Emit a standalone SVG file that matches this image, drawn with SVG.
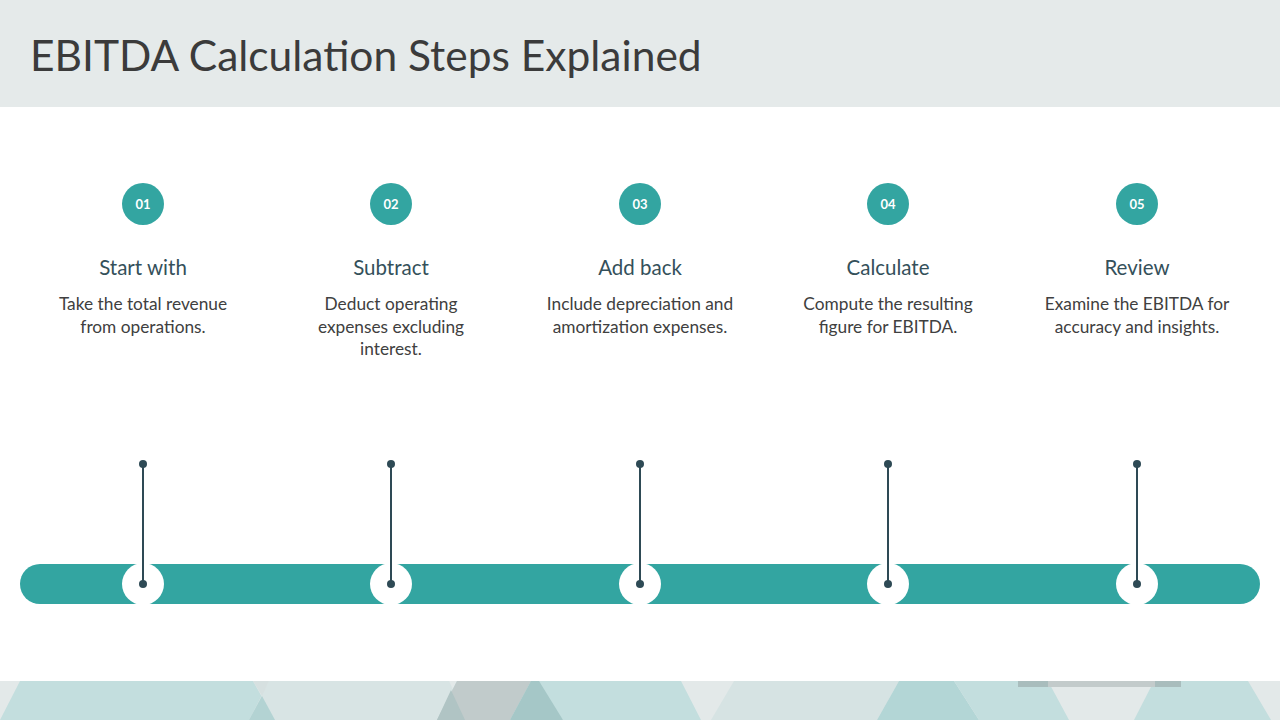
<svg xmlns="http://www.w3.org/2000/svg" width="1280" height="720" viewBox="0 0 1280 720">
<style>
.title{font-family:Lato,"Open Sans",sans-serif;font-size:42.5px;fill:#3b3b3b}
.num{font-family:Lato,"Open Sans",sans-serif;font-size:13px;font-weight:bold;fill:#ffffff;text-anchor:middle}
.head{font-family:Lato,"Open Sans",sans-serif;font-size:20.5px;fill:#34505a;text-anchor:middle}
.body{font-family:Lato,"Open Sans",sans-serif;font-size:17.3px;fill:#404040;text-anchor:middle}
.badge{fill:#33a5a1}
.hole{fill:#ffffff}
.stem{stroke:#2e4a55;stroke-width:2}
.dot{fill:#2e4a55}
</style>
<rect x="0" y="0" width="1280" height="720" fill="#ffffff"/>
<rect x="0" y="0" width="1280" height="107" fill="#e5eaea"/>
<text class="title" x="30" y="71">EBITDA Calculation Steps Explained</text>

<g id="footer">
<rect x="0" y="681" width="1280" height="39" fill="#e3e9e9"/>
<polygon points="20,681 253,681 275,720 0,720" fill="#c3dede"/>
<polygon points="269,681 449,681 467,720 249,720" fill="#d6e3e3" opacity="0.9"/>
<polygon points="253,681 269,681 262,696" fill="#d6e0e0"/>
<polygon points="249,720 262,696 275,720" fill="#b3d3d3"/>
<polygon points="457,681 531,681 535,690 539,681 681,681 701,720 563,720 535,700 510,720 437,720" fill="#c3dede"/>
<polygon points="457,681 531,681 510,720 437,720" fill="#c1cbcb"/>
<polygon points="437,720 451,690 465,720" fill="#b0c4c4"/>
<polygon points="531,681 539,681 563,720 510,720" fill="#a5c7c7"/>
<polygon points="734,681 899,681 877,720 711,720" fill="#d6e3e3"/>
<polygon points="899,681 954,681 979,720 877,720" fill="#b3d6d6"/>
<polygon points="954,681 1048,681 1069,720 979,720" fill="#c3dede"/>
<polygon points="1154,681 1248,681 1271,720 1134,720" fill="#c3dede"/>
<rect x="1018" y="681" width="163" height="6" fill="#c3cbcb"/>
<rect x="1018" y="681" width="30" height="6" fill="#a9bdbd"/>
<rect x="1155" y="681" width="26" height="6" fill="#a9bdbd"/>
</g>

<g id="connectors">
<rect x="20" y="564" width="1240" height="40" rx="20" fill="#33a5a1"/>
<circle class="hole" cx="143" cy="584" r="21"/>
<circle class="hole" cx="391" cy="584" r="21"/>
<circle class="hole" cx="640" cy="584" r="21"/>
<circle class="hole" cx="888" cy="584" r="21"/>
<circle class="hole" cx="1137" cy="584" r="21"/>
<line class="stem" x1="143" y1="464" x2="143" y2="584"/>
<line class="stem" x1="391" y1="464" x2="391" y2="584"/>
<line class="stem" x1="640" y1="464" x2="640" y2="584"/>
<line class="stem" x1="888" y1="464" x2="888" y2="584"/>
<line class="stem" x1="1137" y1="464" x2="1137" y2="584"/>
<circle class="dot" cx="143" cy="464" r="4"/><circle class="dot" cx="143" cy="584" r="4"/>
<circle class="dot" cx="391" cy="464" r="4"/><circle class="dot" cx="391" cy="584" r="4"/>
<circle class="dot" cx="640" cy="464" r="4"/><circle class="dot" cx="640" cy="584" r="4"/>
<circle class="dot" cx="888" cy="464" r="4"/><circle class="dot" cx="888" cy="584" r="4"/>
<circle class="dot" cx="1137" cy="464" r="4"/><circle class="dot" cx="1137" cy="584" r="4"/>
</g>

<g id="step1">
<circle class="badge" cx="143" cy="204" r="21"/>
<text class="num" x="143" y="209">01</text>
<text class="head" x="143" y="275">Start with</text>
<text class="body" x="143" y="310">Take the total revenue</text>
<text class="body" x="143" y="333">from operations.</text>
</g>
<g id="step2">
<circle class="badge" cx="391" cy="204" r="21"/>
<text class="num" x="391" y="209">02</text>
<text class="head" x="391" y="275">Subtract</text>
<text class="body" x="391" y="310">Deduct operating</text>
<text class="body" x="391" y="333">expenses excluding</text>
<text class="body" x="391" y="355">interest.</text>
</g>
<g id="step3">
<circle class="badge" cx="640" cy="204" r="21"/>
<text class="num" x="640" y="209">03</text>
<text class="head" x="640" y="275">Add back</text>
<text class="body" x="640" y="310">Include depreciation and</text>
<text class="body" x="640" y="333">amortization expenses.</text>
</g>
<g id="step4">
<circle class="badge" cx="888" cy="204" r="21"/>
<text class="num" x="888" y="209">04</text>
<text class="head" x="888" y="275">Calculate</text>
<text class="body" x="888" y="310">Compute the resulting</text>
<text class="body" x="888" y="333">figure for EBITDA.</text>
</g>
<g id="step5">
<circle class="badge" cx="1137" cy="204" r="21"/>
<text class="num" x="1137" y="209">05</text>
<text class="head" x="1137" y="275">Review</text>
<text class="body" x="1137" y="310">Examine the EBITDA for</text>
<text class="body" x="1137" y="333">accuracy and insights.</text>
</g>
</svg>
